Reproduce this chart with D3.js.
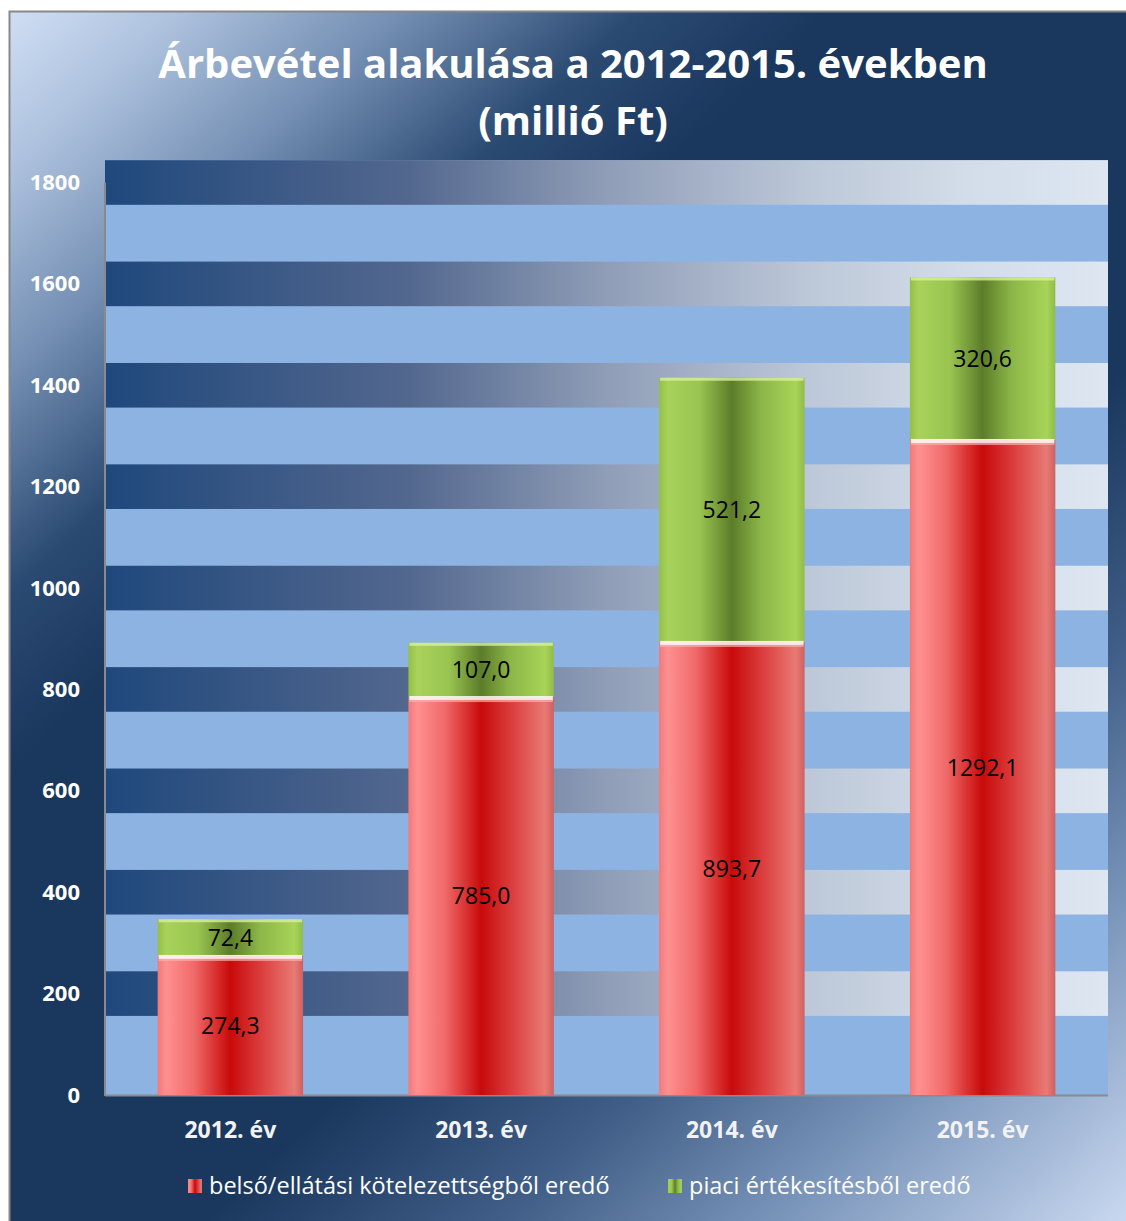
<!DOCTYPE html>
<html lang="hu">
<head>
<meta charset="UTF-8">
<title>Árbevétel alakulása</title>
<script src="https://cdn.jsdelivr.net/npm/d3@7"></script>
<style>
  body { margin: 0; background: #fff; }
  text { font-family: "Open Sans", "Noto Sans", sans-serif; }
</style>
</head>
<body>
<svg id="svg"></svg>
<script>
var WIDTH = 1126;
var HEIGHT = 1221;

// data
var years = ["2012. év", "2013. év", "2014. év", "2015. év"];
var belso = [274.3, 785.0, 893.7, 1292.1];
var piaci = [72.4, 107.0, 521.2, 320.6];
var seriesNames = ["belső/ellátási kötelezettségből eredő", "piaci értékesítésből eredő"];
var yTicks = [0, 200, 400, 600, 800, 1000, 1200, 1400, 1600, 1800];
var titleLines = ["Árbevétel alakulása a 2012-2015. években", "(millió Ft)"];

var PLOT_L = 105, PLOT_R = 1108, PLOT_B = 1095, TOP_Y = 182.5;

var svg = d3.select("#svg").attr("width", WIDTH).attr("height", HEIGHT);
var defs = svg.append("defs");

// chart background: diagonal gradient, light corners, navy middle
var bg = defs.append("linearGradient").attr("id", "bgGrad")
    .attr("gradientUnits", "userSpaceOnUse")
    .attr("x1", 9).attr("y1", 11).attr("x2", WIDTH).attr("y2", HEIGHT);
[[0, "#d0def4"], [0.07, "#aec2de"], [0.16, "#7590b4"], [0.26, "#2b4a72"], [0.34, "#1a375e"],
 [0.62, "#1a375e"], [0.74, "#3f5d86"], [0.86, "#7c97bc"], [1, "#c9d8f0"]].forEach(function(s) {
    bg.append("stop").attr("offset", s[0]).attr("stop-color", s[1]);
});

// plot band gradient
var band = defs.append("linearGradient").attr("id", "bandGrad")
    .attr("gradientUnits", "userSpaceOnUse")
    .attr("x1", PLOT_L).attr("x2", PLOT_R).attr("y1", 0).attr("y2", 0);
[[0, "#1f487c"], [0.3, "#52678e"], [0.5, "#8f9db7"], [0.7, "#bcc7d8"], [0.85, "#d2dce8"], [1, "#dde6f1"]].forEach(function(s) {
    band.append("stop").attr("offset", s[0]).attr("stop-color", s[1]);
});

// bar gradients
function barGrad(id, stops) {
    var g = defs.append("linearGradient").attr("id", id)
        .attr("x1", 0).attr("x2", 1).attr("y1", 0).attr("y2", 0);
    stops.forEach(function(s) {
        g.append("stop").attr("offset", s[0]).attr("stop-color", s[1]);
    });
}
barGrad("redGrad", [[0, "#f07a7a"], [0.06, "#ff9090"], [0.25, "#f06a6a"], [0.5, "#c80a0a"], [0.72, "#dc4040"], [0.94, "#e87a74"], [1, "#d06060"]]);
barGrad("greenGrad", [[0, "#93bf4a"], [0.06, "#a8d25a"], [0.28, "#98c450"], [0.5, "#5c7c2a"], [0.7, "#8cb648"], [0.94, "#a8d458"], [1, "#90bc48"]]);

svg.append("rect").attr("x", 9.5).attr("y", 11.5)
   .attr("width", WIDTH).attr("height", HEIGHT)
   .attr("fill", "url(#bgGrad)").attr("stroke", "#888").attr("stroke-width", 2);

// scales
var yScale = d3.scaleLinear().domain([0, 1800]).range([PLOT_B, TOP_Y]);
var xScale = d3.scaleBand().domain(years).range([PLOT_L, PLOT_R])
    .paddingInner(0.42).paddingOuter(0.21);

var PLOT_T = yScale(1844);

// plot area: light blue base + gradient bands around gridlines
svg.append("rect").attr("x", PLOT_L).attr("y", PLOT_T)
   .attr("width", PLOT_R - PLOT_L).attr("height", PLOT_B - PLOT_T)
   .attr("fill", "#8db3e2");

svg.append("g").selectAll("rect")
   .data(yTicks.filter(function(d) { return d > 0; }))
   .enter().append("rect")
   .attr("x", PLOT_L)
   .attr("y", function(d) { return yScale(d + 44); })
   .attr("width", PLOT_R - PLOT_L)
   .attr("height", function(d) { return yScale(d - 44) - yScale(d + 44); })
   .attr("fill", "url(#bandGrad)");

// axes lines
svg.append("line").attr("x1", PLOT_L).attr("x2", PLOT_L)
   .attr("y1", TOP_Y).attr("y2", PLOT_B + 1)
   .attr("stroke", "#8a8a8a").attr("stroke-width", 2);
svg.append("line").attr("x1", PLOT_L).attr("x2", PLOT_R)
   .attr("y1", PLOT_B + 0.5).attr("y2", PLOT_B + 0.5)
   .attr("stroke", "#8a8a8a").attr("stroke-width", 2);

// y tick labels
var yAxis = d3.axisLeft(yScale).tickValues(yTicks).tickFormat(d3.format("d"))
    .tickSize(0).tickPadding(0);
var yG = svg.append("g").attr("transform", "translate(80,0)").call(yAxis);
yG.select(".domain").remove();
yG.selectAll("text")
  .attr("fill", "#fff").attr("font-size", 22).attr("font-weight", "bold")
  .style("font-family", "'Open Sans', sans-serif");

// x tick labels
var xAxis = d3.axisBottom(xScale).tickSize(0).tickPadding(0);
var xG = svg.append("g").attr("transform", "translate(0,1122)").call(xAxis);
xG.select(".domain").remove();
xG.selectAll("text")
  .attr("fill", "#f2f2f2").attr("font-size", 23).attr("font-weight", "bold")
  .style("font-family", "'Open Sans', sans-serif");

// stacked bars
var stackData = years.map(function(y, i) {
    return { year: y, b: belso[i], p: piaci[i] };
});

var bars = svg.append("g").selectAll("g").data(stackData).enter().append("g");

// red segments
bars.append("rect")
    .attr("x", function(d) { return xScale(d.year); })
    .attr("y", function(d) { return yScale(d.b); })
    .attr("width", xScale.bandwidth())
    .attr("height", function(d) { return PLOT_B - yScale(d.b); })
    .attr("fill", "url(#redGrad)");
// green segments
bars.append("rect")
    .attr("x", function(d) { return xScale(d.year); })
    .attr("y", function(d) { return yScale(d.b + d.p); })
    .attr("width", xScale.bandwidth())
    .attr("height", function(d) { return yScale(d.b) - yScale(d.b + d.p); })
    .attr("fill", "url(#greenGrad)");
// bevel highlights
bars.append("rect")
    .attr("x", function(d) { return xScale(d.year) + 1; })
    .attr("y", function(d) { return yScale(d.b) - 1; })
    .attr("width", xScale.bandwidth() - 2)
    .attr("height", 4)
    .attr("fill", "#fff").attr("opacity", 0.85);
bars.append("rect")
    .attr("x", function(d) { return xScale(d.year) + 1; })
    .attr("y", function(d) { return yScale(d.b) + 3; })
    .attr("width", xScale.bandwidth() - 2)
    .attr("height", 2)
    .attr("fill", "#ffb0b0").attr("opacity", 0.7);
bars.append("rect")
    .attr("x", function(d) { return xScale(d.year) + 1; })
    .attr("y", function(d) { return yScale(d.b + d.p); })
    .attr("width", xScale.bandwidth() - 2)
    .attr("height", 3)
    .attr("fill", "#d8f09a").attr("opacity", 0.8);

// value labels
function fmt(v) { return v.toFixed(1).replace(".", ","); }
bars.append("text")
    .attr("x", function(d) { return xScale(d.year) + xScale.bandwidth() / 2; })
    .attr("y", function(d) { return yScale(d.b / 2); })
    .attr("dy", "0.35em")
    .attr("text-anchor", "middle").attr("font-size", 23).attr("fill", "#000")
    .text(function(d) { return fmt(d.b); });
bars.append("text")
    .attr("x", function(d) { return xScale(d.year) + xScale.bandwidth() / 2; })
    .attr("y", function(d) { return yScale(d.b + d.p / 2); })
    .attr("dy", "0.35em")
    .attr("text-anchor", "middle").attr("font-size", 23).attr("fill", "#000")
    .text(function(d) { return fmt(d.p); });

// title
svg.append("g").selectAll("text").data(titleLines).enter().append("text")
   .attr("x", 573)
   .attr("y", function(d, i) { return 78 + i * 57; })
   .attr("text-anchor", "middle")
   .attr("font-size", 40).attr("font-weight", "bold").attr("fill", "#fff")
   .text(function(d) { return d; });

// legend
var legendX = [188, 668];
var leg = svg.append("g").selectAll("g").data(seriesNames).enter().append("g")
   .attr("transform", function(d, i) { return "translate(" + legendX[i] + ",1179)"; });
leg.append("rect").attr("width", 14).attr("height", 14)
   .attr("fill", function(d, i) { return i === 0 ? "url(#redGrad)" : "url(#greenGrad)"; });
leg.append("text").attr("x", 21).attr("y", 15)
   .attr("font-size", 23.5).attr("fill", "#fff")
   .text(function(d) { return d; });
</script>
</body>
</html>
